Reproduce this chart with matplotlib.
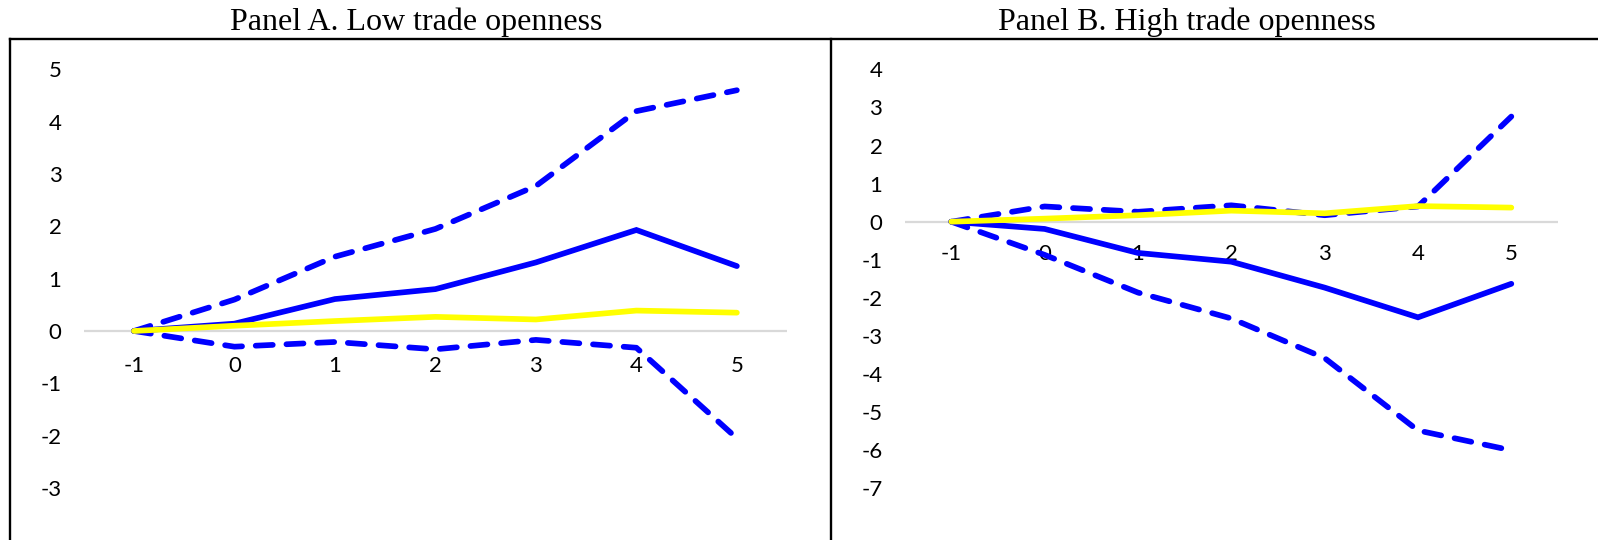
import matplotlib
matplotlib.use("Agg")
import matplotlib.pyplot as plt
from matplotlib.lines import Line2D

# ---- data ----
horizons = [-1, 0, 1, 2, 3, 4, 5]
x_labels = ["-1", "0", "1", "2", "3", "4", "5"]

a_upper = [0, 0.60, 1.42, 1.95, 2.77, 4.20, 4.60]
a_mid = [0, 0.14, 0.61, 0.80, 1.31, 1.93, 1.24]
a_lower = [0, -0.30, -0.21, -0.35, -0.17, -0.32, -2.05]
a_yellow = [0, 0.10, 0.19, 0.27, 0.22, 0.39, 0.35]

b_upper = [0, 0.40, 0.26, 0.43, 0.17, 0.40, 2.76]
b_mid = [0, -0.19, -0.82, -1.05, -1.73, -2.51, -1.63]
b_lower = [0, -0.87, -1.86, -2.54, -3.58, -5.48, -6.00]
b_yellow = [0, 0.08, 0.17, 0.29, 0.22, 0.41, 0.37]

a_yticks = [-3, -2, -1, 0, 1, 2, 3, 4, 5]
b_yticks = [-7, -6, -5, -4, -3, -2, -1, 0, 1, 2, 3, 4]

titles = ["Panel A. Low trade openness", "Panel B. High trade openness"]

W, H = 1598, 540
fig = plt.figure(figsize=(W / 100, H / 100), dpi=100)

BLUE = "#0000FF"
YEL = "#FFFF00"
LW = 4.1
FS = 16


def px_axes(x0, x1, ytop, ybot):
    return fig.add_axes([x0 / W, 1 - ybot / H, (x1 - x0) / W, (ybot - ytop) / H])


def draw(ax, up, mid, lo, yel, yticks, xpad):
    ax.axhline(0, color="#d9d9d9", lw=1.6, zorder=1)
    ax.plot(horizons, up, color=BLUE, lw=LW, dashes=(3.0, 2.4),
            dash_capstyle="round", zorder=3)
    ax.plot(horizons, lo, color=BLUE, lw=LW, dashes=(3.0, 2.4),
            dash_capstyle="round", zorder=3)
    ax.plot(horizons, mid, color=BLUE, lw=LW, solid_capstyle="round",
            solid_joinstyle="miter", zorder=4)
    ax.plot(horizons, yel, color=YEL, lw=LW, solid_capstyle="round", zorder=5)
    ax.set_xlim(-1.5, 5.5)
    ax.set_ylim(min(yticks), max(yticks))
    for s in ax.spines.values():
        s.set_visible(False)
    ax.set_axisbelow(True)
    ax.set_yticks(yticks)
    ax.set_yticklabels([str(t) for t in yticks])
    ax.set_xticks([])
    ax.tick_params(axis="y", length=0, pad=16.0, labelsize=FS)
    for t in ax.get_yticklabels():
        t.set_fontfamily("Lato")
    ax.patch.set_alpha(0)
    for h, lab in zip(horizons, x_labels):
        ax.annotate(lab, xy=(h, 0), xycoords="data", xytext=(0, -xpad),
                    textcoords="offset pixels", ha="center", va="top",
                    fontsize=FS, family="Lato", zorder=0.5)


axA = px_axes(83.7, 787.1, 69.3, 488.0)
draw(axA, a_upper, a_mid, a_lower, a_yellow, a_yticks, 25)
axB = px_axes(904.6, 1558.0, 69.3, 488.4)
draw(axB, b_upper, b_mid, b_lower, b_yellow, b_yticks, 22)

# frames
ytop = 1 - 39 / H
fig.add_artist(Line2D([10 / W, 1.0], [ytop, ytop], color="black", lw=1.7,
                      transform=fig.transFigure))
for xv in (10 / W, 831 / W):
    fig.add_artist(Line2D([xv, xv], [ytop, 0], color="black", lw=1.7,
                          transform=fig.transFigure))

fig.text(416 / W, 1 - 30.3 / H, titles[0], ha="center", va="baseline",
         fontsize=23, family="Liberation Serif")
fig.text(1187 / W, 1 - 30.3 / H, titles[1], ha="center", va="baseline",
         fontsize=23, family="Liberation Serif")

fig.savefig("out.png", dpi=100)
